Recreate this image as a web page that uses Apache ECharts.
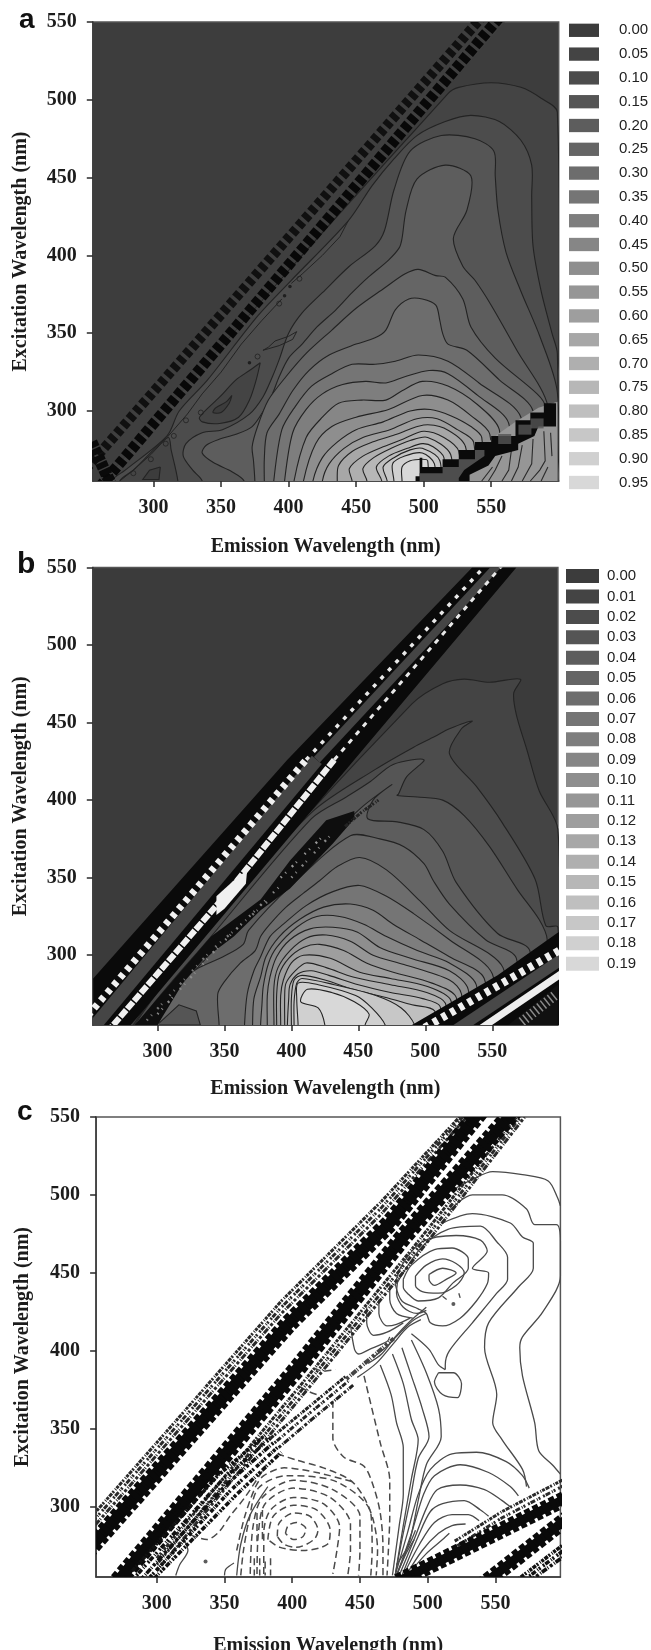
<!DOCTYPE html>
<html><head><meta charset="utf-8">
<style>html,body{margin:0;padding:0;background:#fff}#c{width:651px;height:1650px}</style>
<script src="https://cdn.jsdelivr.net/npm/echarts@6/dist/echarts.min.js"></script>
</head><body><div id="c"></div>
<script>
// ---- tick labels and legend labels
const xTicks=[300,350,400,450,500,550];
const yTicks=[300,350,400,450,500,550];
const aLabels=['0.00','0.05','0.10','0.15','0.20','0.25','0.30','0.35','0.40','0.45','0.50','0.55','0.60','0.65','0.70','0.75','0.80','0.85','0.90','0.95'];
const bLabels=['0.00','0.01','0.02','0.03','0.04','0.05','0.06','0.07','0.08','0.09','0.10','0.11','0.12','0.13','0.14','0.15','0.16','0.17','0.18','0.19'];
const grayRamp=['#3c3c3c','#444444','#4c4c4c','#555555','#5d5d5d','#656565','#6d6d6d','#757575','#7e7e7e','#868686','#8e8e8e','#969696','#9e9e9e','#a7a7a7','#afafaf','#b7b7b7','#bfbfbf','#c7c7c7','#d0d0d0','#d8d8d8'];

// ---- panel a: contour lines, [emission, excitation], one list per level 0.05 ... 0.95
const aContours=[
[[263,255],[518,504],[526,508],[550,511],[572,508],[587,501],[599,492]],
[[269,255],[279,262],[310,284],[319,300],[340,320],[377,361],[402,384],[444,422],[462,445],[478,462],[495,477],[516,486],[535,490],[556,486],[572,474],[580,458],[580,438],[581,406],[587,377],[595,350],[599,337]],
[[336,255],[329,262],[322,271],[324,279],[336,286],[351,288],[371,298],[381,309],[388,322],[393,333],[400,350],[410,363],[425,376],[445,393],[464,406],[471,416],[478,442],[490,467],[513,477],[538,475],[552,467],[553,451],[555,429],[561,402],[572,377],[586,348],[599,312]],
[[367,255],[358,261],[344,267],[336,273],[339,278],[349,282],[361,285],[373,290],[382,301],[388,311],[393,322],[400,334],[410,343],[421,354],[435,365],[447,376],[459,386],[474,397],[482,405],[484,411],[487,429],[495,449],[516,458],[535,451],[532,429],[522,411],[529,393],[538,384],[550,368],[569,339],[592,303]],
[[375,255],[374,268],[373,277],[377,290],[385,307],[398,322],[413,337],[432,352],[450,366],[471,379],[486,388],[496,391],[509,387],[516,386],[529,372],[535,354],[553,334],[584,311],[590,303]],
[[382,255],[382,269],[384,286],[393,298],[403,313],[415,326],[430,336],[450,343],[464,347],[472,352],[479,365],[489,372],[499,372],[509,368],[512,358],[514,350],[518,343],[532,339],[556,320],[581,300]],
[[389,255],[395,288],[405,303],[417,316],[432,324],[447,330],[464,330],[479,332],[496,336],[518,332],[541,318],[572,296]],
[[397,255],[403,286],[413,301],[425,311],[440,317],[457,319],[472,318],[486,322],[504,326],[518,324],[540,310],[563,292]],
[[404,255],[413,283],[425,296],[437,305],[454,307],[472,307],[484,313],[499,319],[518,316],[540,304],[556,288]],
[[411,255],[420,279],[432,290],[450,296],[474,301],[499,310],[518,307],[535,297],[549,285]],
[[418,255],[425,270],[436,280],[450,288],[470,293],[490,300],[505,301],[520,297],[535,290],[543,283]],
[[425,255],[430,266],[441,276],[455,283],[475,288],[495,295],[510,295],[525,288],[537,280]],
[[436,255],[437,265],[447,274],[462,280],[480,285],[500,291],[515,289],[531,277]],
[[447,255],[445,263],[455,271],[470,277],[485,282],[500,287],[515,283],[526,274]],
[[458,255],[455,263],[463,270],[476,276],[490,281],[503,283],[520,272]],
[[469,255],[465,264],[474,271],[488,276],[499,279],[507,277],[515,270]],
[[473,255],[470,264],[478,270],[490,275],[499,276],[512,268]],
[[478,255],[477,266],[486,271],[499,273],[508,266]],
[[484,255],[484,264],[490,268],[499,269],[503,268]]
];
const aValley=[[379,331],[376,320],[371,307],[363,296],[349,292],[336,293],[334,296],[349,309],[361,320],[371,326],[379,331]];
const aValleyInner=[[358,310],[354,306],[346,302],[344,299],[350,299],[356,305],[358,310]];
const aCorner=[[318,255],[313,275],[311,283],[300,275],[285,262],[275,255]];
const aCornerLoop=[[305,264],[304,256],[292,256],[297,262],[305,264]];
const aSliver=[[444,422],[438,412],[425,400],[410,388],[402,382]];
const aHug=[[275,255],[285,262],[298,272],[310,283],[325,298],[336,311],[350,325],[365,343],[380,358],[395,372]];
const aTip=[[406,351],[400,348],[390,345],[385,341],[381,339],[385,340],[393,342],[403,346],[406,351]];
const aDots=[[401,380],[397,374],[371,331]];
const aRings=[[408,385],[393,369],[377,335],[285,260],[298,269],[309,279],[315,284],[324,294],[335,299]];
const aBandOuter=[[245,258],[550,560]];
const aBandInner=[[255,246],[563,560]];
const aBandUnder=[[248,252],[558,560]];
const aBandCorner=[[254,280],[270,250]];
const aLowerRegion=[[528,255],[538,272],[553,284],[568,293],[585,302],[599,306],[599,255]];
const aLowerLines=[
[[551,264],[543,255]],[[558,271],[553,262],[548,255]],[[565,275],[563,262],[558,255]],[[573,278],[570,264],[565,255]],
[[581,282],[580,266],[573,255]],[[589,287],[590,268],[586,262],[579,255]],[[594,286],[595,271]],[[592,264],[587,255]]];
const aStairBlack=[[494,255],[494,258],[497,258],[497,270],[499,270],[499,264],[514,264],[514,269],[526,269],[526,275],[538,275],[538,280],[550,280],[550,284],[568,284],[568,294],[579,294],[579,299],[589,299],[589,305],[598,305],[598,290],[585,290],[582,284],[570,279],[570,275],[553,271],[548,265],[534,259],[534,255]];
const aStairGray=[[497,255],[497,260],[514,260],[514,264],[526,264],[526,269],[538,269],[538,275],[545,275],[545,271],[530,262],[526,257],[526,255]];
const aSquares=[[560,282],[575,288],[584,292]];

// ---- panel b: contour lines, one list per level 0.01 ... 0.19
const bContours=[
[[282,255],[340,321],[490,462],[513,475],[529,478],[548,476],[571,478],[566,469],[568,455],[576,432],[585,406],[599,381]],
[[283,255],[340,320],[415,392],[463,420],[491,434],[507,441],[518,446],[535,451],[527,446],[518,430],[538,409],[557,386],[582,349],[590,319],[599,318]],
[[285,255],[340,312],[415,388],[441,402],[459,412],[476,423],[499,426],[486,415],[480,404],[479,403],[494,402],[513,400],[529,390],[548,370],[569,342],[585,323],[591,310]],
[[295,255],[360,320],[420,368],[452,395],[475,410],[461,400],[457,388],[479,386],[499,381],[513,367],[523,347],[554,314],[578,303]],
[[300,255],[319,284],[329,291],[349,299],[364,307],[368,316],[400,345],[444,377],[466,375],[484,370],[499,359],[506,348],[518,333],[545,310],[568,298]],
[[346,255],[345,275],[350,283],[362,295],[373,303],[377,312],[384,320],[396,331],[409,340],[421,348],[434,357],[451,363],[471,355],[496,335],[518,316],[558,292]],
[[365,255],[367,275],[372,290],[377,299],[384,312],[394,320],[411,332],[431,341],[451,345],[471,338],[491,327],[518,310],[550,288]],
[[371,255],[372,272],[377,286],[381,299],[391,312],[406,323],[424,331],[444,333],[461,329],[476,320],[496,310],[518,299],[544,285]],
[[377,255],[378,268],[379,280],[383,295],[389,305],[404,318],[419,325],[436,325],[454,320],[471,312],[494,303],[518,295],[538,281]],
[[382,255],[382,274],[384,286],[389,299],[399,310],[414,317],[431,318],[449,315],[466,305],[489,298],[518,290],[532,278]],
[[387,255],[387,280],[390,292],[399,303],[411,311],[426,313],[444,309],[461,300],[484,294],[518,284],[527,275]],
[[389,255],[389,275],[391,288],[398,298],[409,305],[421,307],[439,303],[456,295],[476,289],[505,282],[523,273]],
[[392,255],[392,274],[394,284],[400,295],[409,300],[429,298],[451,289],[474,285],[501,280],[519,271]],
[[395,255],[395,274],[396,282],[403,290],[411,295],[426,292],[446,286],[474,281],[501,276],[515,269]],
[[397,255],[398,272],[399,281],[405,288],[415,290],[428,287],[450,281],[474,276],[498,272],[511,267]],
[[400,255],[400,272],[402,284],[408,287],[425,284],[446,278],[469,273],[490,268],[507,264]],
[[402,255],[402,270],[404,282],[408,285],[432,281],[463,274],[482,266],[492,255]],
[[405,255],[404,272],[405,282],[420,281],[448,274],[460,266],[470,255]],
[[425,255],[420,266],[407,270],[412,278],[430,276],[447,270],[458,262],[455,255]]
];
const bLoop=[[301,256],[316,268],[329,264],[332,255],[301,255]];
const bBandBlack=[[252,285],[397,426],[535,550],[568,550],[447,426],[290,265],[280,255],[252,255]];
const bTeethLow=[[243,256],[411,426]];
const bTeethHigh=[[411,426],[551,557]];
const bGrayLow=[[243,244],[419,426]];
const bGrayHigh=[[419,426],[560,557]];
const bWhiteLow=[[262,250],[352,340],[432,426]];
const bWhiteHigh=[[432,426],[564,558]];
const bWhiteFat=[[344,326],[344,338],[358,349],[367,355],[366,346],[350,330]];
const bNoisePoly=[[283,255],[340,312],[377,336],[399,361],[426,387],[447,393],[447,388],[431,372],[399,343],[377,329],[357,312],[334,297],[319,282],[300,255]];
const bNoiseScribble=[[440,383],[452,392],[465,400]];
const bNoiseSpeckA=[[300,262],[345,305],[392,345]];
const bNoiseSpeckB=[[292,258],[340,303],[384,336]];
const bNoiseSpeckC=[[392,350],[425,378]];
const bNoiseSpeckD=[[400,350],[432,380]];
const bLowBlack=[[490,255],[526,273],[554,287],[598,314],[600,315],[600,255]];
const bLowTeeth=[[493,250],[610,308]];
const bLowGray=[[518,249],[610,302]];
const bLowWhite=[[535,249],[610,293]];
const bLowNoise=[[562,255],[599,281],[599,255]];
const bLowDots=[[572,257],[598,275]];

// ---- panel c: solid contour lines
const cSolid=[
[[520,504],[533,510],[548,515],[570,513],[589,509],[596,498],[598,493]],
[[516,490],[533,500],[555,500],[573,491],[579,481],[595,481],[598,470],[598,448],[585,425],[570,409],[568,402],[570,384],[579,354],[582,336],[592,327],[598,321]],
[[511,482],[533,488],[561,482],[570,473],[578,469],[578,453],[567,441],[545,418],[542,402],[551,372],[548,354],[555,343],[570,324],[573,313]],
[[477,443],[496,467],[515,478],[539,480],[551,470],[559,460],[559,446],[551,437],[533,418],[516,400],[513,391],[513,388]],
[[476,443],[481,455],[496,470],[521,474],[539,471],[544,464],[533,453],[545,450],[544,443],[536,432],[524,421],[511,416],[502,418],[499,424],[493,427],[481,432],[476,443]],
[[482,446],[488,455],[505,465],[518,466],[530,459],[530,453],[518,443],[508,434],[493,432],[485,437],[482,441],[482,446]],
[[491,448],[499,455],[511,459],[521,456],[527,450],[521,442],[508,437],[496,438],[491,442],[491,448]],
[[501,449],[511,453],[521,450],[514,446],[505,442],[501,446],[501,449]],
[[443,417],[446,401],[449,398],[457,401],[470,406],[472,409]],
[[455,428],[455,418],[460,410],[470,412],[482,418]],
[[464,433],[464,424],[470,416],[477,417],[487,421]],
[[472,443],[472,433],[477,424],[489,421]],
[[478,446],[477,437],[482,428],[492,424],[499,426]],
[[508,386],[519,386],[525,379],[522,370],[511,372],[505,380],[508,386]],
[[488,411],[501,401],[508,391],[513,388]],
[[465,391],[473,372],[477,354],[482,338],[482,308],[479,288],[474,256]],
[[474,398],[482,379],[488,356],[493,343],[488,318],[482,288],[476,256]],
[[481,402],[488,384],[496,363],[501,345],[493,331],[487,304],[481,279],[476,256]],
[[488,407],[499,386],[508,363],[510,345],[499,327],[493,304],[487,279],[477,256]],
[[476,256],[485,283],[493,308],[502,324],[518,334],[536,335],[558,329],[570,320],[575,312]],
[[477,256],[488,283],[497,308],[505,320],[524,327],[545,322],[561,313],[567,307]],
[[479,256],[490,279],[499,299],[507,311],[524,314],[542,311],[555,304],[561,300]],
[[481,256],[493,281],[502,297],[511,302],[527,304],[539,298],[545,294]],
[[482,256],[494,276],[505,290],[518,295],[530,295],[538,291]],
[[484,256],[496,272],[508,283],[518,288],[528,289]],
[[485,256],[499,270],[511,279],[516,283]],
[[477,263],[486,275],[491,285]],[[478,258],[484,270],[490,279]],
[[499,424],[490,420],[480,412],[470,403],[460,396]],
[[499,428],[487,419],[476,409],[466,398],[456,392]],
[[495,420],[485,415],[475,405],[462,392],[448,383]],
[[359,256],[362,276],[369,295],[382,313]],
[[350,256],[351,260],[357,264]],
[[314,256],[317,263],[323,272],[320,279]],
[[511,435],[514,433]],[[523,437],[524,434]]
];
// ---- panel c: dashed contour lines
const cDashed=[
[[430,368],[430,344],[438,332],[453,326],[460,313],[465,296],[467,274],[467,256]],
[[453,384],[465,341],[472,317],[472,294],[471,272],[470,256]],
[[389,334],[403,330],[423,325],[443,317],[453,306],[460,291],[463,272],[462,256]],
[[325,282],[337,279],[346,284],[354,294],[365,306],[381,327]],
[[395,283],[397,288],[403,290],[410,286],[408,281],[401,279],[395,283]],
[[389,281],[390,289],[401,296],[413,294],[419,285],[416,279],[403,274],[394,276],[389,281]],
[[382,279],[386,294],[401,301],[418,298],[428,285],[426,276],[408,272],[391,274],[382,279]],
[[379,257],[379,283],[384,298],[401,306],[423,302],[435,287],[433,272],[430,257]],
[[374,257],[375,283],[380,302],[401,312],[428,306],[443,289],[443,272],[441,256]],
[[369,257],[371,287],[378,306],[401,317],[430,311],[450,294],[450,272],[449,256]],
[[362,256],[364,272],[368,291],[375,312],[396,320],[433,316],[458,296],[459,272],[458,256]],
[[359,272],[365,294],[373,313],[379,320],[394,325],[418,322],[445,316]],
[[416,389],[423,387],[432,388]],
[[406,377],[412,374],[418,372]],
[[372,267],[372,256]],[[376,267],[376,256]],[[380,265],[380,256]],[[384,267],[384,256]],
[[374,296],[374,278]],[[378,298],[378,277]]
];
const cDots=[[336,265],[519,430]];
const cBand1=[[248,271],[398,418],[472,482],[541,556]];
const cBand1NoiseA=[[243,285],[392,432],[466,496],[532,558]];
const cBand1NoiseB=[[243,281],[392,428],[466,492],[534,558]];
const cBand1NoiseC=[[243,277],[392,424],[466,488],[537,558]];
const cBand2=[[267,248],[403,388],[482,473],[566,556]];
const cBand2NoiseA=[[300,267],[410,382],[490,467],[571,556]];
const cBand2NoiseB=[[300,263],[410,378],[490,463],[574,556]];
const cBand2NoiseC=[[300,259],[410,374],[490,459],[577,556]];
const cBand3A=[[282,259],[345,320],[380,346]];
const cBand3B=[[285,256],[348,317],[384,344]];
const cBand3C=[[289,254],[351,314],[386,341]];
const cBand3D=[[294,254],[355,311],[389,338]];
const cBand3E=[[298,254],[359,308],[392,335]];
const cBand3MidA=[[384,344],[408,361],[440,384]];
const cBand3MidB=[[387,341],[410,358],[442,381]];
const cBand3MidC=[[390,338],[413,355],[445,378]];
const cBand3Thin=[[440,382],[475,408]];
const cBand4=[[478,252],[608,308]];
const cBand4NoiseA=[[520,278],[555,297],[608,321]];
const cBand4NoiseB=[[520,274],[555,293],[608,317]];
const cBand5=[[539,249],[608,296]];
const cBand5NoiseA=[[560,249],[608,281]];
const cBand5NoiseB=[[565,249],[608,277]];
const cBand5NoiseC=[[570,249],[608,273]];

// ---- panel geometry
const panels=[
 {left:92.8,top:22,width:465.9,height:459,xMin:255,xMax:600,bg:'#3d3d3d',xGap:56,yGap:62},
 {left:92.8,top:567.5,width:465.1,height:457.5,xMin:251.7,xMax:599,bg:'#3b3b3b',xGap:54,yGap:62},
 {left:96.1,top:1117,width:464.3,height:460,xMin:255.2,xMax:598,bg:'#ffffff',xGap:59,yGap:63}
];
const yMin=255,yMax=550;
const serif='"Liberation Serif","Times New Roman",serif';
const speckDash=[1.5,5,1,8,2,4,1,11];
const noisePatterns=[[4,1,2,2,1,1,3,1],[2,1,5,2,1,1,2,3],[3,2,1,1,6,1,1,2],[1,1,3,1,2,3,4,1],[5,1,1,2,2,1,3,2]];
const series=[];
let order=2;
const pushS=s=>{s.z=order++;s.animation=false;s.silent=true;series.push(s);};

// filled contour: the line, closed down past the bottom of the axis
function contour(g,pts,fill,name,stroke=true,closed=false,smooth=0.3){
  pushS({type:'custom',name,xAxisIndex:g,yAxisIndex:g,coordinateSystem:'cartesian2d',clip:true,
    data:pts,encode:{x:0,y:1},itemStyle:{color:fill},
    renderItem(params,api){
      if(params.dataIndex!==0)return null;
      const line=pts.map(p=>api.coord(p));
      const poly=closed?line:[api.coord([pts[0][0],yMin-12])].concat(line,[api.coord([pts[pts.length-1][0],yMin-12])]);
      const kids=[{type:'polygon',shape:{points:poly,smooth},style:{fill,stroke:null}}];
      if(stroke)kids.push({type:'polyline',shape:{points:poly,smooth},style:{fill:null,stroke:'#232323',lineWidth:1.1}});
      return {type:'group',children:kids};
    }});
}
// thin contour line
function line(g,pts,width,color,dash,smooth){
  pushS({type:'line',xAxisIndex:g,yAxisIndex:g,data:pts,showSymbol:false,symbol:'none',clip:true,smooth:smooth||false,
    lineStyle:{width,color,type:dash||'solid',cap:'butt',join:'miter'}});
}
// wide band stroke, cut exactly at the plot edge
function band(g,pts,width,color,dash){
  pushS({type:'custom',xAxisIndex:g,yAxisIndex:g,coordinateSystem:'cartesian2d',clip:true,
    data:pts,encode:{x:0,y:1},
    renderItem(params,api){
      if(params.dataIndex!==0)return null;
      return {type:'polyline',shape:{points:pts.map(p=>api.coord(p))},
        style:{fill:null,stroke:color,lineWidth:width,lineDash:dash||null,lineCap:'butt',lineJoin:'miter'}};
    }});
}
function noise(g,lists,width,color){lists.forEach((l,i)=>band(g,l,width,color,noisePatterns[i%noisePatterns.length]));}
function dots(g,pts,size,color,hollow){
  pushS({type:'scatter',xAxisIndex:g,yAxisIndex:g,data:pts,symbol:'circle',symbolSize:size,
    itemStyle:hollow?{color:'rgba(0,0,0,0)',borderColor:color,borderWidth:1}:{color}});
}

// legend placeholders so every label resolves to a series
aLabels.concat(bLabels).forEach(n=>{pushS({type:'custom',name:n,xAxisIndex:0,yAxisIndex:0,coordinateSystem:'cartesian2d',data:[],renderItem(){return null;}});});

// ---- panel a
aContours.forEach((c,i)=>contour(0,c,grayRamp[i+1],aLabels[i+1]));
contour(0,aCorner,grayRamp[1],'a-corner',true,false);
contour(0,aCornerLoop,grayRamp[0],'a-loop',true,true,0);
contour(0,aValley,grayRamp[1],'a-valley',true,true);
contour(0,aValleyInner,grayRamp[0],'a-valley2',true,true);
line(0,aSliver,1,'#232323');
line(0,aHug,1,'#232323');
line(0,aTip,1,'#232323');
dots(0,aDots,3.5,'#141414');
dots(0,aRings,5,'#222',true);
band(0,aBandUnder,25,'#3f3f3f');
band(0,aBandOuter,10,'#101010',[6,3.5]);
band(0,aBandInner,11,'#080808',[7,3]);
band(0,aBandCorner,12,'#0a0a0a',[6,1.5]);
contour(0,aLowerRegion,grayRamp[11],'a-low',false,true,0);
aLowerLines.forEach(l=>line(0,l,1.1,'#2a2a2a'));
contour(0,aStairBlack,'#0a0a0a','a-stair',false,true,0);
contour(0,aStairGray,'#4d4d4d','a-stair2',false,true,0);
pushS({type:'scatter',xAxisIndex:0,yAxisIndex:0,data:aSquares,symbol:'rect',symbolSize:[13,10],itemStyle:{color:'#555'}});

// ---- panel b
bContours.forEach((c,i)=>contour(1,c,grayRamp[i+1],bLabels[i+1]));
contour(1,bLoop,grayRamp[3],'b-loop',true,true,0);
contour(1,bNoisePoly,'#0e0e0e','b-noise',false,true,0);
band(1,bNoiseSpeckA,2.5,'#8a8a8a',speckDash);
band(1,bNoiseSpeckB,2.5,'#777',speckDash);
band(1,bNoiseSpeckC,2.5,'#999',speckDash);
band(1,bNoiseSpeckD,2.5,'#888',speckDash);
band(1,bNoiseScribble,3,'#222',noisePatterns[0]);
contour(1,bBandBlack,'#0a0a0a','b-band',false,true,0);
band(1,bGrayLow,13,'#454545');
band(1,bGrayHigh,8,'#454545');
band(1,bTeethLow,7,'#f0f0f0',[5,5]);
band(1,bTeethHigh,3.5,'#e8e8e8',[4,7]);
band(1,bWhiteLow,6,'#f0f0f0',[9,1.5]);
band(1,bWhiteHigh,3,'#e8e8e8',[5,6]);
contour(1,bWhiteFat,'#f0f0f0','b-fat',false,true,0);
contour(1,bLowBlack,'#0a0a0a','b-low',false,true,0);
band(1,bLowGray,11,'#484848');
band(1,bLowTeeth,8,'#f0f0f0',[5,5]);
band(1,bLowWhite,7,'#eeeeee');
contour(1,bLowNoise,'#111','b-low2',false,true,0);
band(1,bLowDots,10,'#8a8a8a',[1.5,3]);

// ---- panel c
cSolid.forEach(l=>line(2,l,1.3,'#4a4a4a',null,0.3));
cDashed.forEach(l=>line(2,l,1.5,'#4a4a4a',[7,4],0.3));
dots(2,cDots,4,'#333');
noise(2,[cBand1NoiseA,cBand1NoiseB,cBand1NoiseC],3,'#2a2a2a');
band(2,cBand1,11,'#0a0a0a');
band(2,cBand1,18,'#0a0a0a',[6,3]);
noise(2,[cBand2NoiseA,cBand2NoiseB,cBand2NoiseC],3,'#2a2a2a');
band(2,cBand2,11,'#0a0a0a');
band(2,cBand2,18,'#0a0a0a',[6,3]);
noise(2,[cBand3A,cBand3B,cBand3C,cBand3D,cBand3E],3.6,'#111');
noise(2,[cBand3MidA,cBand3MidB,cBand3MidC],3,'#222');
band(2,cBand3Thin,4,'#444',noisePatterns[2]);
noise(2,[cBand4NoiseA,cBand4NoiseB],3,'#2a2a2a');
band(2,cBand4,9,'#0a0a0a');
band(2,cBand4,16,'#0a0a0a',[6,3]);
band(2,cBand5,9,'#0a0a0a');
band(2,cBand5,16,'#0a0a0a',[6,3]);
noise(2,[cBand5NoiseA,cBand5NoiseB,cBand5NoiseC],3.6,'#111');

const axisCommon={
  axisLine:{show:true,onZero:false,lineStyle:{color:'#3a3a3a',width:1.5}},
  axisTick:{show:true,length:6,lineStyle:{color:'#2a2a2a',width:1.5}},
  splitLine:{show:false},
  nameTextStyle:{fontFamily:serif,fontWeight:'bold',fontSize:20,color:'#1c1c1c'},
  nameLocation:'middle'
};
const option={
  animation:false,
  backgroundColor:'#fff',
  title:[
    {text:'a',left:14,top:1,textStyle:{fontFamily:'"Liberation Sans"',fontWeight:'bold',fontSize:28,color:'#111'}},
    {text:'b',left:12,top:545,textStyle:{fontFamily:'"Liberation Sans"',fontWeight:'bold',fontSize:30,color:'#111'}},
    {text:'c',left:12,top:1093,textStyle:{fontFamily:'"Liberation Sans"',fontWeight:'bold',fontSize:28,color:'#111'}}
  ],
  grid:panels.map(p=>({left:p.left,top:p.top,width:p.width,height:p.height,show:true,backgroundColor:p.bg,borderColor:'#555',borderWidth:1.5,containLabel:false,outerBoundsMode:'none'})),
  xAxis:panels.map((p,i)=>Object.assign({},axisCommon,{
    gridIndex:i,type:'value',min:p.xMin,max:p.xMax,name:'Emission Wavelength (nm)',nameGap:p.xGap,
    axisTick:Object.assign({},axisCommon.axisTick,{customValues:xTicks}),
    axisLabel:{customValues:xTicks,margin:17,fontFamily:serif,fontWeight:'bold',fontSize:20,color:'#1c1c1c'}
  })),
  yAxis:panels.map((p,i)=>Object.assign({},axisCommon,{
    gridIndex:i,type:'value',min:yMin,max:yMax,name:'Excitation Wavelength (nm)',nameGap:p.yGap,nameRotate:90,
    axisTick:Object.assign({},axisCommon.axisTick,{customValues:yTicks}),
    axisLabel:{customValues:yTicks,margin:16,fontFamily:serif,fontWeight:'bold',fontSize:20,color:'#1c1c1c'}
  })),
  legend:[
    {orient:'vertical',left:569,top:22.8,padding:0,itemWidth:30,itemHeight:13.3,itemGap:8.8,selectedMode:false,icon:'rect',
     textStyle:{fontFamily:'"Liberation Sans"',fontSize:15,color:'#222',lineHeight:13,padding:[0,0,0,15]},
     data:aLabels.map((n,i)=>({name:n,icon:'rect',itemStyle:{color:grayRamp[i],borderWidth:0}}))},
    {orient:'vertical',left:566,top:568.6,padding:0,itemWidth:33,itemHeight:14,itemGap:5.4,selectedMode:false,icon:'rect',
     textStyle:{fontFamily:'"Liberation Sans"',fontSize:15,color:'#222',lineHeight:14,padding:[0,0,0,3]},
     data:bLabels.map((n,i)=>({name:n,icon:'rect',itemStyle:{color:grayRamp[i],borderWidth:0}}))}
  ],
  series
};
const chart=echarts.init(document.getElementById('c'),null,{renderer:'canvas'});
chart.setOption(option);
</script></body></html>
